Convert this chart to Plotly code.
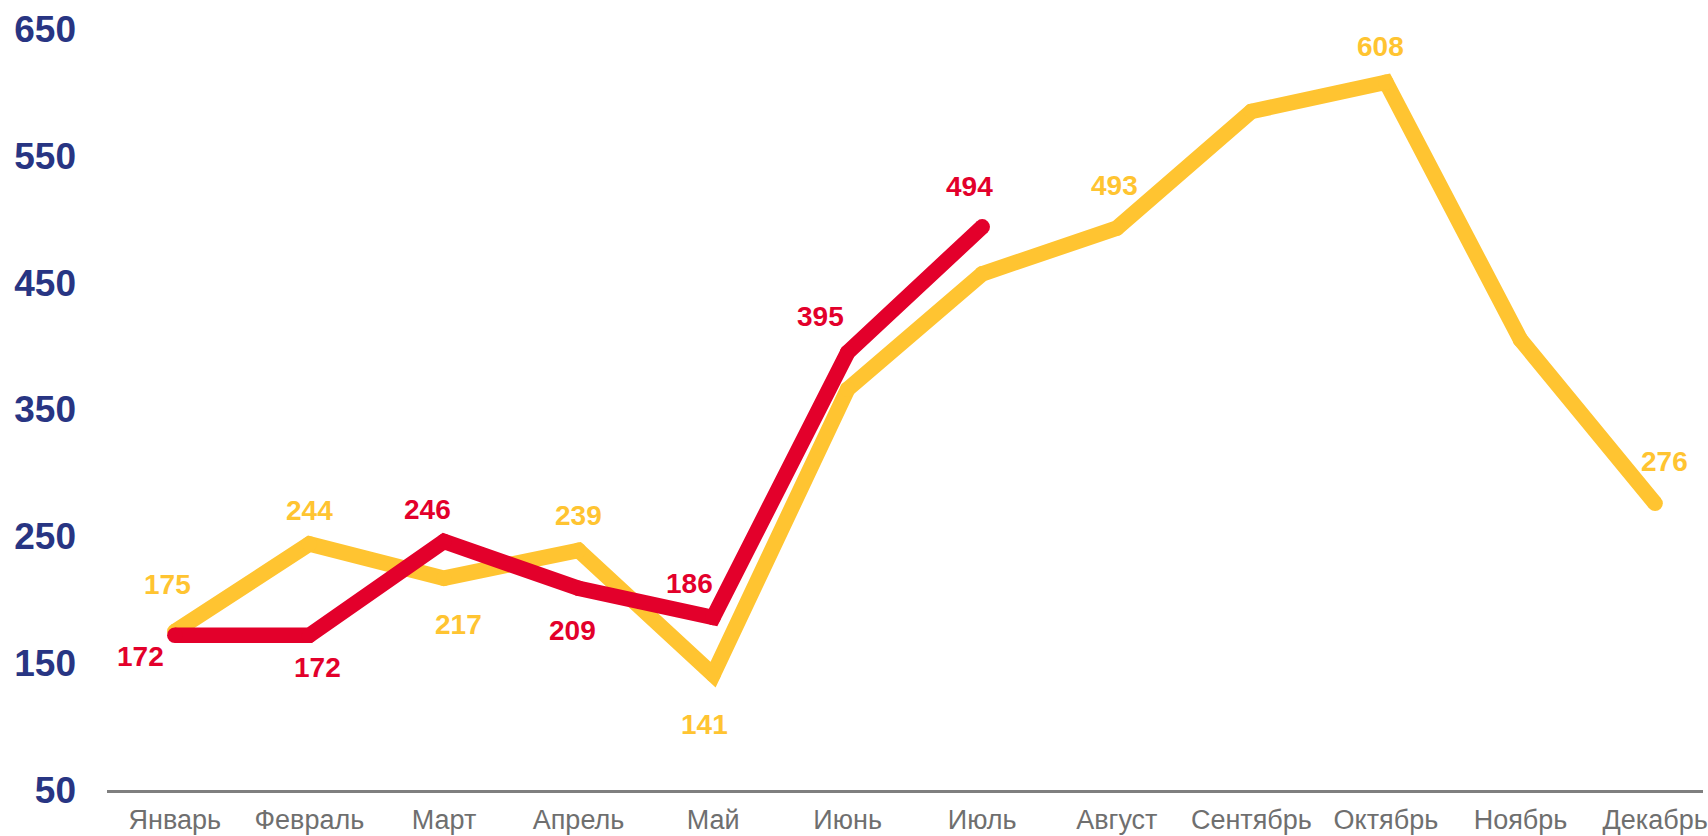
import plotly.graph_objects as go

months = ["Январь", "Февраль", "Март", "Апрель", "Май", "Июнь", "Июль",
          "Август", "Сентябрь", "Октябрь", "Ноябрь", "Декабрь"]
prev_year = [175, 244, 217, 239, 141, 366, 457, 493, 585, 608, 405, 276]
curr_year = [172, 172, 246, 209, 186, 395, 494]
y_ticks = [50, 150, 250, 350, 450, 550, 650]

# which points carry a value label, and where the label sits (px offsets)
prev_labels = {0: (-7, 47), 1: (0, 33), 2: (15, -46), 3: (0, 35), 4: (-9, -50),
               7: (-2, 43), 9: (-5, 36), 11: (9, 42)}
curr_labels = {0: (-34, -21), 1: (8, -32), 2: (-16, 32), 3: (-6, -42),
               4: (-24, 34), 5: (-27, 36), 6: (-13, 40)}

YELLOW = "#FFC431"
RED = "#E3002B"
NAVY = "#283583"
GREY = "#6F6F6F"
LW = 15.5

fig = go.Figure()
fig.add_trace(go.Scatter(
    x=months, y=prev_year, mode="lines+markers",
    line=dict(color=YELLOW, width=LW),
    marker=dict(color=YELLOW, size=LW, line=dict(width=0)),
    hoverinfo="skip", showlegend=False))
fig.add_trace(go.Scatter(
    x=months[:len(curr_year)], y=curr_year, mode="lines+markers",
    line=dict(color=RED, width=LW),
    marker=dict(color=RED, size=LW, line=dict(width=0)),
    hoverinfo="skip", showlegend=False))

annotations = []
for series, labels, color in ((prev_year, prev_labels, YELLOW),
                              (curr_year, curr_labels, RED)):
    for i, (dx, dy) in labels.items():
        annotations.append(dict(
            x=months[i], y=series[i], text=str(series[i]), showarrow=False,
            xshift=dx, yshift=dy,
            font=dict(family="Liberation Sans, Arial, sans-serif", size=28,
                      color=color, weight="bold")))

fig.update_layout(
    width=1708, height=836,
    margin=dict(l=107, r=0, t=29, b=46),
    paper_bgcolor="white", plot_bgcolor="white",
    annotations=annotations,
    xaxis=dict(
        type="category", range=[-0.504, 11.356],
        showgrid=False, zeroline=False,
        showline=True, linecolor="#7F7F7F", linewidth=3,
        ticks="", ticklabelstandoff=4,
        tickfont=dict(family="Liberation Sans, Arial, sans-serif",
                      size=27, color=GREY)),
    yaxis=dict(
        range=[50, 650], tickvals=y_ticks, ticktext=[str(v) for v in y_ticks],
        showgrid=False, zeroline=False, showline=False, ticks="",
        ticklabelstandoff=30,
        tickfont=dict(family="Liberation Sans, Arial, sans-serif", size=37,
                      color=NAVY, weight="bold")),
)

fig.write_html("out.html", config={"displayModeBar": False},
               post_script="document.body.style.margin='0';")
